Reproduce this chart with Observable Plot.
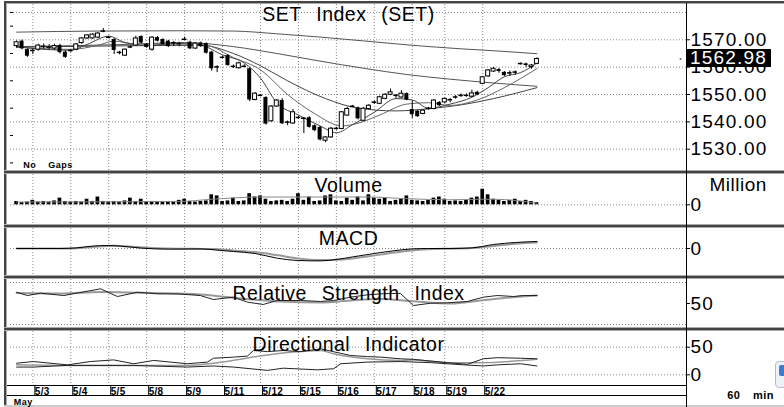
<!DOCTYPE html>
<html><head><meta charset="utf-8">
<script src="https://cdn.jsdelivr.net/npm/d3@7"></script>
<script src="https://cdn.jsdelivr.net/npm/@observablehq/plot@0.6"></script>
<style>
html,body{margin:0;padding:0;background:#fff;}
#wrap{position:relative;width:784px;height:407px;overflow:hidden;background:#fff;font-family:"Liberation Sans",Arial,sans-serif;}
#wrap svg{position:absolute;left:0;top:0;}
#wrap .ln{position:absolute;}
#wrap text{letter-spacing:0.5px;word-spacing:9px;}
#wrap g[aria-label="y-axis tick label"] text{letter-spacing:1.2px;}
#wrap g[aria-label="x-axis tick label"] text{letter-spacing:0.3px;}
#last{position:absolute;left:687px;width:84px;height:18px;background:#000;color:#fff;font-size:19px;line-height:18px;letter-spacing:1.2px;padding-left:3px;box-sizing:border-box;}
#icon{position:absolute;left:775px;top:361px;width:22px;height:27px;border:1px solid #b8bcc8;border-radius:4px;background:#eef1f6;box-sizing:border-box;}
#icon span{position:absolute;left:3px;top:3px;width:9px;height:11px;background:#3b7bd4;border-radius:2px;}
</style>
</head><body>
<div id="wrap">
  <div class="ln" style="left:4px;top:1px;width:780px;height:2px;background:#444"></div>
  <div class="ln" style="left:4px;top:3px;width:780px;height:1px;background:#aaa"></div>
  <div class="ln" style="left:4px;top:1px;width:2px;height:406px;background:#444"></div>
  <div class="ln" style="left:6px;top:3px;width:1px;height:404px;background:#aaa"></div>
  <div class="ln" style="left:4px;top:170px;width:780px;height:1px;background:#aaa"></div>
  <div class="ln" style="left:4px;top:171px;width:780px;height:2px;background:#444"></div>
  <div class="ln" style="left:4px;top:173px;width:780px;height:1px;background:#aaa"></div>
  <div class="ln" style="left:4px;top:224px;width:780px;height:1px;background:#aaa"></div>
  <div class="ln" style="left:4px;top:225px;width:780px;height:2px;background:#444"></div>
  <div class="ln" style="left:4px;top:227px;width:780px;height:1px;background:#aaa"></div>
  <div class="ln" style="left:4px;top:275px;width:780px;height:1px;background:#aaa"></div>
  <div class="ln" style="left:4px;top:276px;width:780px;height:2px;background:#444"></div>
  <div class="ln" style="left:4px;top:278px;width:780px;height:1px;background:#aaa"></div>
  <div class="ln" style="left:4px;top:327px;width:780px;height:1px;background:#aaa"></div>
  <div class="ln" style="left:4px;top:328px;width:780px;height:2px;background:#444"></div>
  <div class="ln" style="left:4px;top:330px;width:780px;height:1px;background:#aaa"></div>
  <div class="ln" style="left:7px;top:385px;width:679px;height:1px;background:#000"></div>
  <div class="ln" style="left:7px;top:395px;width:679px;height:1px;background:#000"></div>
  <div class="ln" style="left:4px;top:405px;width:780px;height:2px;background:#ccc"></div>
  <div class="ln" style="left:686px;top:3px;width:1px;height:404px;background:#000"></div>
  <div id="icon"><span></span></div>
</div>
<script>
// ---------- data ----------
const N = 97;
const dayIdx = [3,10,17,24,31,38,45,52,59,66,73,79,86];
const dayLabels = ["5/3","5/4","5/5","5/8","5/9","5/11","5/12","5/15","5/16","5/17","5/18","5/19","5/22"];
const monthLabel = "May";
const title = "SET Index (SET)";

const open = [1567.7,1569.5,1566.4,1566.0,1566.4,1567.5,1567.2,1566.8,1567.9,1565.5,
1566.0,1566.4,1568.8,1570.5,1570.5,1570.8,1573.1,1570.8,1570.1,1565.3,
1564.2,1567.3,1567.9,1571.2,1568.3,1566.4,1570.8,1570.1,1569.5,1568.8,
1568.5,1570.1,1569.1,1566.8,1568.8,1568.6,1565.5,1560.0,1563.5,1564.2,
1560.2,1559.6,1560.2,1559.4,1548.0,1549.6,1548.9,1540.2,1545.6,1547.8,
1539.8,1539.4,1541.5,1541.2,1541.5,1538.6,1538.0,1533.1,1534.3,1537.5,
1537.4,1542.3,1545.6,1545.1,1540.4,1544.7,1547.1,1546.6,1548.4,1549.9,
1549.6,1548.9,1550.3,1544.5,1543.9,1542.9,1544.8,1544.7,1547.1,1547.1,
1548.0,1549.0,1549.6,1549.6,1549.2,1550.8,1553.9,1556.6,1558.4,1559.1,
1558.1,1557.8,1558.1,1561.2,1561.2,1560.0,1561.2];
const high = [1569.6,1569.9,1566.7,1566.6,1568.4,1568.5,1568.2,1568.4,1568.4,1566.0,
1566.5,1568.6,1570.8,1571.9,1572.2,1572.6,1574.1,1571.3,1570.4,1565.8,
1566.6,1567.9,1571.3,1571.5,1568.6,1571.1,1571.2,1570.4,1569.8,1569.4,
1569.1,1571.0,1569.5,1568.9,1569.2,1568.9,1565.8,1560.5,1564.0,1564.6,
1560.8,1561.8,1560.9,1559.7,1550.7,1550.0,1549.2,1545.9,1548.2,1548.5,
1540.3,1544.5,1542.0,1541.6,1541.9,1538.9,1538.3,1534.6,1538.0,1538.0,
1543.8,1545.3,1546.0,1545.4,1545.2,1546.3,1547.6,1549.4,1550.3,1552.0,
1550.0,1551.4,1550.6,1547.6,1544.2,1544.4,1545.3,1548.1,1547.4,1548.7,
1548.5,1549.6,1550.2,1550.2,1551.6,1551.2,1556.6,1559.1,1559.9,1559.5,
1558.4,1558.6,1558.6,1561.6,1561.5,1561.0,1563.4];
const low = [1567.0,1566.3,1563.6,1564.6,1565.8,1566.5,1566.2,1566.2,1564.8,1563.2,
1565.3,1566.0,1568.4,1570.1,1570.2,1570.4,1572.6,1570.4,1564.6,1564.5,
1563.9,1566.8,1567.6,1568.5,1566.9,1565.8,1569.2,1568.0,1567.2,1567.6,
1567.4,1569.8,1566.4,1566.5,1567.2,1564.8,1558.5,1558.0,1563.1,1560.3,
1559.5,1559.3,1559.8,1547.4,1547.7,1549.2,1538.8,1539.9,1545.3,1539.0,
1538.6,1539.1,1541.0,1535.7,1537.7,1536.4,1533.0,1532.4,1534.0,1537.0,
1537.1,1542.0,1545.2,1540.7,1540.1,1544.4,1546.4,1546.3,1548.1,1549.6,
1548.4,1548.6,1547.7,1541.2,1541.6,1542.6,1544.3,1544.4,1545.6,1546.8,
1547.0,1548.3,1548.9,1549.0,1548.9,1549.6,1553.6,1556.3,1558.1,1557.8,
1556.6,1556.6,1557.0,1560.8,1559.8,1559.2,1560.9];
const close = [1569.1,1566.7,1564.0,1566.1,1567.9,1567.6,1567.3,1567.7,1565.3,1563.6,
1566.1,1568.3,1570.5,1571.6,1571.9,1572.3,1573.2,1570.9,1566.1,1565.4,
1566.4,1567.4,1570.5,1568.8,1567.2,1570.8,1569.5,1568.3,1567.5,1568.9,
1568.6,1570.2,1566.7,1568.6,1567.5,1565.1,1559.4,1560.1,1563.6,1560.6,
1560.3,1561.4,1560.3,1548.0,1550.3,1549.7,1539.2,1545.6,1547.8,1539.3,
1539.9,1543.5,1541.6,1541.3,1538.0,1536.8,1533.4,1534.3,1537.5,1537.6,
1543.5,1544.7,1545.7,1541.1,1544.8,1545.9,1547.2,1549.0,1549.9,1550.8,
1549.7,1550.3,1548.0,1542.6,1541.9,1544.1,1544.9,1547.8,1545.9,1548.4,
1548.1,1549.1,1549.7,1549.7,1550.4,1549.9,1556.3,1558.8,1559.4,1558.4,
1556.9,1557.9,1558.2,1561.3,1560.6,1560.6,1562.98];
const lastPrice = 1562.98;

// moving averages on price, [bar index, value]
const ma1 = [[0,1572.8],[15,1573.2],[30,1573.3],[40,1573.2],[48,1572.2],[56,1571.0],[64,1569.6],[73,1568.0],[82,1566.7],[88,1566.0],[96,1564.9]];
const ma2 = [[0,1567.5],[20,1568.3],[31,1569.0],[40,1567.5],[48,1565.0],[56,1562.2],[64,1559.6],[72,1557.3],[80,1555.6],[88,1554.2],[96,1553.0]];
const ma3 = [[0,1567.3],[20,1567.8],[34,1568.0],[40,1565.0],[45,1560.5],[50,1555.0],[57,1548.5],[63,1545.0],[70,1544.0],[76,1544.8],[82,1546.2],[88,1548.5],[96,1552.5]];
const maFast = [[0,1567.5],[5,1566.5],[10,1566.2],[13,1568.3],[17,1571.3],[20,1569],[24,1568],[30,1568.6],[34,1568],[38,1564.5],[42,1561.5],[45,1556],[48,1547],[52,1542.5],[56,1538.5],[59,1536],[62,1539],[66,1543.5],[70,1548.5],[73,1548],[76,1545],[80,1546.5],[84,1549],[87,1552.5],[90,1556.5],[93,1558],[96,1561.5]];
const maSlow = [[0,1567.3],[10,1566.5],[15,1568],[18,1569.5],[22,1568.5],[30,1568.5],[35,1568],[40,1563.5],[45,1559],[50,1550],[55,1543],[60,1538.5],[63,1539.5],[67,1542.5],[72,1546.5],[76,1547],[80,1546],[85,1548],[90,1552.5],[96,1559.5]];

const priceTicks = [1530,1540,1550,1560,1570];
const priceGrid = [1530,1540,1550,1560,1570,1580];
const priceMinor = [1525,1535,1545,1555,1565,1575,1580];

// volume (million)
const volume = [300,200,250,400,250,300,250,350,600,300,
250,300,250,500,300,700,300,250,300,250,
350,600,300,500,250,300,250,300,250,300,
400,500,300,250,300,350,900,800,300,350,
600,300,350,1000,700,800,500,300,350,400,
300,500,1000,400,700,300,350,800,900,350,
300,600,400,700,350,900,600,500,600,300,
400,500,800,400,350,300,400,600,700,500,
300,350,300,400,600,700,1400,900,500,400,
300,400,500,300,400,300,200];
const volMA = [[0,250],[30,300],[36,500],[45,700],[55,700],[65,700],[72,550],[80,450],[86,500],[88,500],[96,150]];

// MACD
const macdLine = [[0,0],[8,0],[11,0.3],[14,1.2],[17,1.5],[20,1.0],[23,0.2],[28,-0.3],[34,-0.2],[37,-0.8],[40,-1.5],[44,-2.5],[48,-4.8],[52,-6],[56,-6.2],[59,-5.5],[62,-4.2],[66,-2.5],[70,-1],[73,-0.2],[76,0],[80,0],[84,0.3],[88,2],[92,3],[96,3.5]];
const macdSignal = [[0,0],[10,0],[14,0.8],[18,1.4],[22,0.8],[28,0],[36,-0.3],[40,-1],[44,-1.8],[48,-3.3],[52,-5],[56,-5.8],[60,-5.5],[64,-4.2],[68,-2.7],[72,-1.2],[76,-0.4],[80,-0.1],[84,0.2],[88,1.2],[92,2.4],[96,3]];

// RSI
const rsiLine = [[0,66.1],[2,61.4],[4.4,64.7],[8.7,61.4],[15.5,71],[18.6,60],[22.3,66.1],[26,63.9],[30,63.6],[33.9,61.4],[36.3,55.7],[40,59],[42.6,51.9],[45.5,48.6],[48.1,54.3],[52.4,54.3],[56.1,52.9],[58.5,54.3],[61.6,59],[64.7,62.4],[67.7,64],[70.8,64.5],[73.2,47.1],[76.4,50.4],[79.5,51],[83.2,52.9],[86.1,59],[88.7,61.4],[91.7,60],[93.5,61.4],[96,61.4]];
const rsiAvg = [[0,65],[8.1,64.3],[15.5,66.4],[24.7,65],[33.9,62.9],[41.3,57.1],[48.7,52.9],[56.1,51.4],[61.6,54.3],[67.1,56.4],[72.7,53.6],[80.1,50],[85.6,54.3],[91.1,58.6],[96,61.4]];

// Directional indicator
const diUpper = [[0,21],[3.1,24],[9.4,18],[13.6,24],[17.9,27],[21.6,20],[25.3,26],[31.5,20],[35.2,23],[36.3,30],[40,32],[42.6,34],[43.7,44],[46.3,42],[49.2,44],[52.4,42],[56.1,47],[61.6,35],[64.7,33],[67.1,32],[70.8,29],[73.2,28],[79.5,22],[83.2,19],[86.1,29],[88.7,31],[93,30],[96,29]];
const diADX = [[0,18],[10,17],[20,17],[31.5,17],[37.1,22],[46.3,36],[52.4,42],[56.1,44],[58.5,38],[64.7,29],[70.8,26],[73,27],[79.5,22],[85.6,22],[96,28]];
const diLower = [[0,14],[3.1,14],[9.4,17],[21.6,17],[31.5,14],[36.3,16],[40,14],[46.3,8],[49.2,12],[55.5,9],[58.5,11],[59.8,20],[64.7,23],[70.8,24],[76.4,22],[82.5,18],[86.1,16],[88.7,18],[93,20],[96,16]];

// ---------- drawing ----------
const FONT = '"Liberation Sans", Arial, Helvetica, sans-serif';
const W = 784, H = 407, FL = 10, FR = 686;
const xs = {domain: [0, N - 1], range: [16.1, 16.1 + (N - 1) * 5.42]};
const grid = {stroke: "#8a8a8a", strokeDasharray: "1,2", strokeWidth: 1};
const rows = a => a.map(([i, v]) => ({i, v}));
const line = (a, opt) => Plot.line(rows(a), {x: "i", y: "v", ...opt});
const rightAxis = (ticks, fmt) => Plot.axisY(ticks, {anchor: "right", label: null, tickSize: 3, tickPadding: 1, fontSize: 19, tickFormat: fmt});
const titleText = (t, dy) => Plot.text([t], {text: d => d, frameAnchor: "top", dy, lineAnchor: "bottom", fontSize: 19.5, fill: "black"});

function panel(top, bottom, y, marks, showX = false) {
  return Plot.plot({
    width: W, height: H,
    marginLeft: FL, marginRight: W - FR, marginTop: top, marginBottom: H - bottom,
    x: showX ? {...xs, label: null} : {...xs, axis: null, label: null},
    y: {...y, label: null},
    style: {background: "transparent", fontFamily: FONT, overflow: "visible", color: "black"},
    marks
  });
}

const candles = close.map((c, i) => ({i, o: open[i], h: high[i], l: low[i], c}));
const bodies = candles.filter(d => Math.abs(d.c - d.o) >= 0.3);
const dojis = candles.filter(d => Math.abs(d.c - d.o) < 0.3);
const hw = 0.37;

const pricePlot = panel(4, 170, {domain: [1530, 1570], range: [148.7, 39.3]}, [
  Plot.ruleY(priceGrid, grid),
  Plot.ruleX(dayIdx, grid),
  line(ma1, {stroke: "#555", strokeWidth: 1, curve: "monotone-x"}),
  line(ma2, {stroke: "#555", strokeWidth: 1, curve: "monotone-x"}),
  line(ma3, {stroke: "#444", strokeWidth: 1, curve: "monotone-x"}),
  line(maSlow, {stroke: "#666", strokeWidth: 1, curve: "monotone-x"}),
  line(maFast, {stroke: "#444", strokeWidth: 1, curve: "monotone-x"}),
  Plot.ruleX(candles, {x: "i", y1: "l", y2: "h", stroke: "black", strokeWidth: 1}),
  Plot.rect(bodies.filter(d => d.c < d.o), {x1: d => d.i - hw, x2: d => d.i + hw, y1: "o", y2: "c", fill: "black"}),
  Plot.rect(bodies.filter(d => d.c > d.o), {x1: d => d.i - hw, x2: d => d.i + hw, y1: "o", y2: "c", fill: "white", stroke: "black", strokeWidth: 1}),
  Plot.ruleY(dojis, {x1: d => d.i - 0.42, x2: d => d.i + 0.42, y: "c", stroke: "black", strokeWidth: 1.5}),
  rightAxis(priceTicks, d => d.toFixed(2)),
  Plot.axisY(priceMinor, {anchor: "left", label: null, tickSize: -3, tickFormat: () => ""}),
  titleText(title, 16.7),
  Plot.text(["No Gaps"], {text: d => d, frameAnchor: "bottom-left", dx: 12.7, dy: -2.3, textAnchor: "start", lineAnchor: "bottom", fontSize: 9, fontWeight: "bold"}),
  Plot.dot([lastPrice], {y: d => d, frameAnchor: "right", dx: -6, r: 1, fill: "#666"})
]);

const volRows = volume.map((v, i) => ({i, v}));
const volPlot = panel(174, 224, {domain: [0, 900], range: [204.3, 194.3]}, [
  Plot.ruleX(dayIdx, grid),
  Plot.ruleY([0], grid),
  Plot.rect(volRows, {x1: d => d.i - 0.34, x2: d => d.i + 0.34, y1: 0, y2: "v", fill: "black"}),
  line(volMA, {stroke: "#888", strokeWidth: 1, curve: "monotone-x"}),
  rightAxis([0], d => String(d)),
  titleText("Volume", 17),
  Plot.text(["Million"], {text: d => d, frameAnchor: "top-right", dx: 23, dy: 16.7, textAnchor: "start", lineAnchor: "bottom", fontSize: 19})
]);

const macdPlot = panel(228, 275, {domain: [0, 1], range: [248, 246]}, [
  Plot.ruleX(dayIdx, grid),
  Plot.ruleY([0], grid),
  line(macdSignal, {stroke: "#999", strokeWidth: 2, curve: "monotone-x"}),
  line(macdLine, {stroke: "black", strokeWidth: 1, curve: "monotone-x"}),
  rightAxis([0], d => String(d)),
  titleText("MACD", 16.3)
]);

const rsiPlot = panel(279, 327, {domain: [20, 80], range: [324, 282]}, [
  Plot.ruleX(dayIdx, grid),
  Plot.ruleY([20, 80], grid),
  line(rsiAvg, {stroke: "#999", strokeWidth: 2, curve: "monotone-x"}),
  line(rsiLine, {stroke: "#222", strokeWidth: 1}),
  rightAxis([50], d => String(d)),
  titleText("Relative Strength Index", 20)
]);

const diPlot = panel(331, 385, {domain: [0, 50], range: [374.3, 346.7]}, [
  Plot.ruleX(dayIdx, grid),
  Plot.ruleY([0, 50], grid),
  line(diADX, {stroke: "#999", strokeWidth: 1.5, curve: "monotone-x"}),
  line(diUpper, {stroke: "#222", strokeWidth: 1}),
  line(diLower, {stroke: "#222", strokeWidth: 1}),
  rightAxis([0, 50], d => String(d)),
  titleText("Directional Indicator", 19),
  Plot.axisX(dayIdx, {anchor: "bottom", label: null, tickSize: 10, tickPadding: -8, textAnchor: "start", dx: 2, lineAnchor: "top",
    tickFormat: d => dayLabels[dayIdx.indexOf(d)], fontSize: 10, fontWeight: "bold"}),
  Plot.text([monthLabel], {text: d => d, frameAnchor: "bottom-left", dx: 3.3, dy: 19, textAnchor: "start", lineAnchor: "bottom", fontSize: 9, fontWeight: "bold"}),
  Plot.text(["60 min"], {text: d => d, frameAnchor: "bottom-right", dx: 40.7, dy: 13.3, textAnchor: "start", lineAnchor: "bottom", fontSize: 11, fontWeight: "bold"})
], true);

const wrap = document.getElementById("wrap");
for (const p of [pricePlot, volPlot, macdPlot, rsiPlot, diPlot]) wrap.appendChild(p);

const yLast = pricePlot.scale("y").apply(lastPrice);
const box = document.createElement("div");
box.id = "last";
box.style.top = (yLast - 9) + "px";
box.textContent = lastPrice.toFixed(2);
wrap.appendChild(box);
</script>
</body></html>
